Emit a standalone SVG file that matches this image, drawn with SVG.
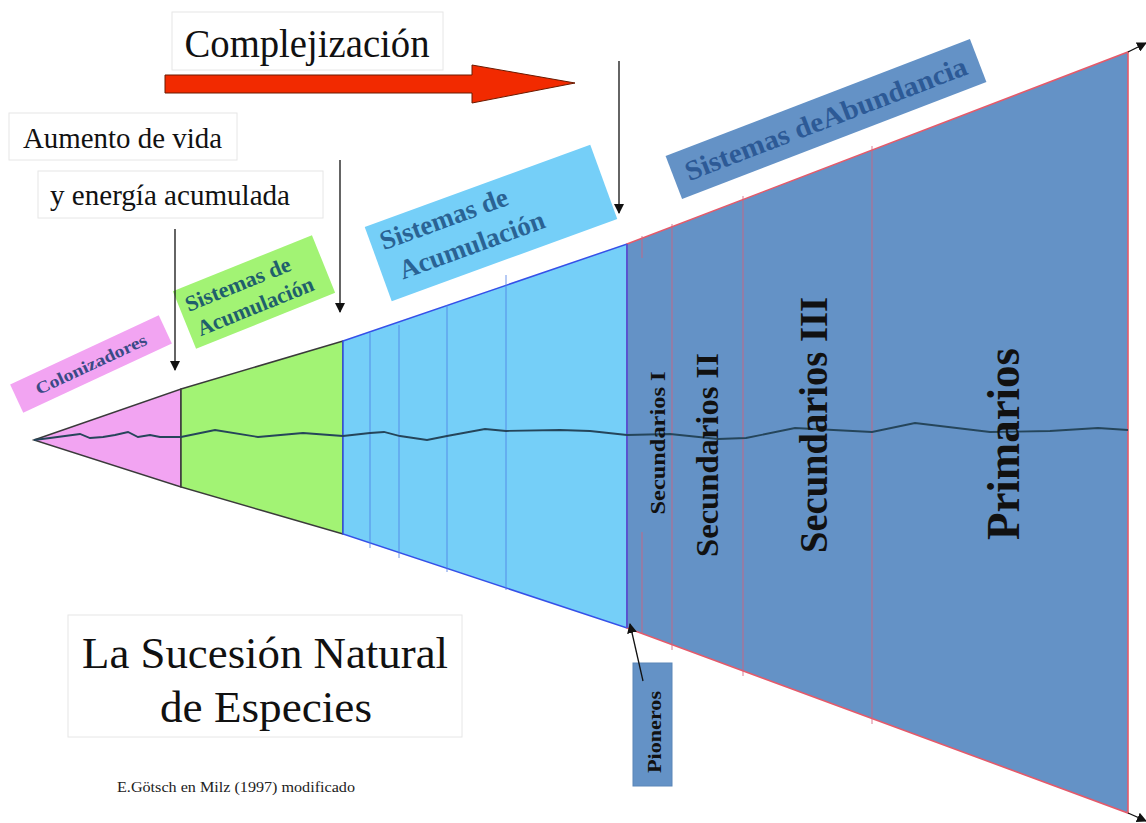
<svg xmlns="http://www.w3.org/2000/svg" width="1146" height="823" viewBox="0 0 1146 823">
<defs>
<marker id="ah" viewBox="0 0 10 10" refX="9" refY="5" markerWidth="10" markerHeight="10" markerUnits="userSpaceOnUse" orient="auto">
<path d="M0,0 L10,5 L0,10 z" fill="#111"/>
</marker>
<style>
.serif{font-family:"Liberation Serif","Times New Roman",serif}
.b{font-weight:bold}
.wbox{fill:#ffffff;stroke:#e6e6e6;stroke-width:1}
.vt{fill:#111;font-weight:bold;font-family:"Liberation Serif","Times New Roman",serif}
.conn{stroke:#111;stroke-width:1.3;fill:none}
.bl{stroke:#4f7fe6;stroke-width:1;opacity:0.8}
.rl{stroke:#d8607a;stroke-width:1;opacity:0.8}
</style>
</defs>
<rect width="1146" height="823" fill="#ffffff"/>

<g id="stage-colonizadores">
<polygon points="34,440 181,389 181,487" fill="#f2a4f2" stroke="#3a3a3a" stroke-width="1.5"/>
</g>
<g id="stage-acumulacion-1">
<polygon points="181,389 343,341 343,534 181,487" fill="#a2f374" stroke="#3a3a3a" stroke-width="1.5"/>
</g>
<g id="stage-acumulacion-2">
<polygon points="343,341 627,244 627,628 343,534" fill="#75cff8" stroke="#3550e8" stroke-width="1.5"/>
<line class="bl" x1="370" y1="333" x2="370" y2="548"/>
<line class="bl" x1="399" y1="325" x2="399" y2="558"/>
<line class="bl" x1="447" y1="305" x2="447" y2="572"/>
<line class="bl" x1="506" y1="275" x2="506" y2="590"/>
</g>
<g id="stage-abundancia">
<polygon points="627,244 1128,52 1128,813 627,628" fill="#6492c6" stroke="#e45a6a" stroke-width="1.6"/>
<line x1="627" y1="244" x2="627" y2="628" stroke="#3550e8" stroke-width="1.5"/>
<line class="rl" x1="642" y1="236" x2="642" y2="258"/>
<line class="rl" x1="642" y1="532" x2="642" y2="633"/>
<line class="rl" x1="672" y1="224" x2="672" y2="650"/>
<line class="rl" x1="743" y1="196" x2="743" y2="676"/>
<line class="rl" x1="872" y1="146" x2="872" y2="724"/>
</g>

<polyline points="34,440 50,438 65,436 80,434 90,438 103,437 115,435 128,432 138,437 150,435 160,437 181,437 215,430 258,437 303,433 343,436 370,433 384,432 400,436 427,440 447,436 485,429 506,431 560,430 590,431 627,435 670,434 718,439 746,438 795,428 872,432 915,423 990,432 1050,431 1098,428 1128,430" fill="none" stroke="#25455a" stroke-width="1.8"/>

<g id="label-secundarios-1"><text class="vt" font-size="21" text-anchor="middle" textLength="143" lengthAdjust="spacingAndGlyphs" transform="translate(665,443) rotate(-90)">Secundarios I</text></g>
<g id="label-secundarios-2"><text class="vt" font-size="31" text-anchor="middle" textLength="204" lengthAdjust="spacingAndGlyphs" transform="translate(718,455) rotate(-90)">Secundarios II</text></g>
<g id="label-secundarios-3"><text class="vt" font-size="39" text-anchor="middle" textLength="256" lengthAdjust="spacingAndGlyphs" transform="translate(827,425) rotate(-90)">Secundarios III</text></g>
<g id="label-primarios"><text class="vt" font-size="47" text-anchor="middle" textLength="192" lengthAdjust="spacingAndGlyphs" transform="translate(1019,444) rotate(-90)">Primarios</text></g>

<g id="label-pioneros">
<rect x="633" y="663" width="39" height="123" fill="#6492c6" stroke="#5a86b8" stroke-width="1"/>
<text class="vt" font-size="19" text-anchor="middle" textLength="82" lengthAdjust="spacingAndGlyphs" transform="translate(661,732) rotate(-90)">Pioneros</text>
</g>

<g id="label-colonizadores" transform="translate(91,364) rotate(-25)">
<rect x="-82" y="-15.5" width="164" height="31" fill="#f2a4f2"/>
<text class="serif b" x="0" y="6" font-size="17" fill="#3a4a86" text-anchor="middle" textLength="121" lengthAdjust="spacingAndGlyphs">Colonizadores</text>
</g>

<g id="label-acumulacion-1" transform="translate(254,292) rotate(-22)">
<rect x="-75" y="-31" width="150" height="62" fill="#a2f374"/>
<text class="serif b" x="-68" y="-6" font-size="22" fill="#1f5f6c" textLength="112" lengthAdjust="spacingAndGlyphs">Sistemas de</text>
<text class="serif b" x="-66" y="21" font-size="22" fill="#1f5f6c" textLength="124" lengthAdjust="spacingAndGlyphs">Acumulación</text>
</g>

<g id="label-acumulacion-2" transform="translate(491,223) rotate(-20)">
<rect x="-120" y="-39.5" width="240" height="79" fill="#75cff8"/>
<text class="serif b" x="-110" y="-11" font-size="27" fill="#2a6394">Sistemas de</text>
<text class="serif b" x="-102" y="23" font-size="27" fill="#2a6394">Acumulación</text>
</g>

<g id="label-abundancia" transform="translate(826,119) rotate(-21)">
<rect x="-163" y="-23" width="326" height="46" fill="#6492c6"/>
<text class="serif b" x="0" y="9" font-size="28" fill="#2d5a96" text-anchor="middle" textLength="300" lengthAdjust="spacingAndGlyphs">Sistemas deAbundancia</text>
</g>

<g id="title-complejizacion">
<rect class="wbox" x="172" y="12" width="271" height="58"/>
<text class="serif" x="307" y="57" font-size="40" fill="#111" text-anchor="middle" textLength="245" lengthAdjust="spacingAndGlyphs">Complejización</text>
<polygon points="165,75 472,75 472,65 575,83 472,103 472,93 165,93" fill="#f22a00" stroke="#6a1a00" stroke-width="1"/>
</g>

<g id="text-aumento">
<rect class="wbox" x="9" y="113" width="228" height="47"/>
<text class="serif" x="23" y="148" font-size="29" fill="#111" textLength="199" lengthAdjust="spacingAndGlyphs">Aumento de vida</text>
</g>
<g id="text-energia">
<rect class="wbox" x="38" y="171" width="285" height="47"/>
<text class="serif" x="50" y="205" font-size="29" fill="#111" textLength="240" lengthAdjust="spacingAndGlyphs">y energía acumulada</text>
</g>

<g id="title-sucesion">
<rect class="wbox" x="68" y="615" width="394" height="122"/>
<text class="serif" x="265" y="668" font-size="45" fill="#111" text-anchor="middle" textLength="366" lengthAdjust="spacingAndGlyphs">La Sucesión Natural</text>
<text class="serif" x="266" y="722" font-size="45" fill="#111" text-anchor="middle" textLength="212" lengthAdjust="spacingAndGlyphs">de Especies</text>
</g>

<g id="credit">
<text class="serif" x="117" y="792" font-size="15" fill="#222" textLength="238" lengthAdjust="spacingAndGlyphs">E.Götsch en Milz (1997) modificado</text>
</g>

<g id="connectors">
<line class="conn" x1="175" y1="229" x2="175" y2="370" marker-end="url(#ah)"/>
<line class="conn" x1="340" y1="160" x2="340" y2="312" marker-end="url(#ah)"/>
<line class="conn" x1="619" y1="61" x2="619" y2="213" marker-end="url(#ah)"/>
<line class="conn" x1="643" y1="681" x2="630" y2="624" marker-end="url(#ah)"/>
<line class="conn" x1="1128" y1="52" x2="1146" y2="43" marker-end="url(#ah)"/>
<line class="conn" x1="1128" y1="813" x2="1146" y2="821" marker-end="url(#ah)"/>
</g>
</svg>
